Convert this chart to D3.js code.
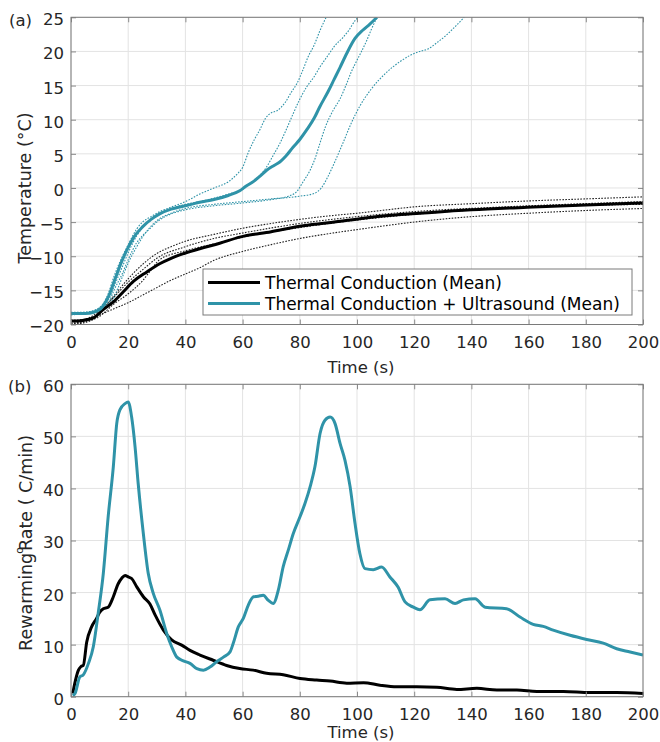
<!DOCTYPE html>
<html><head><meta charset="utf-8">
<script src="https://cdn.jsdelivr.net/npm/d3@7/dist/d3.min.js"></script>
<style>body{margin:0;background:#fff;}svg{display:block;font-family:"DejaVu Sans",sans-serif;}</style>
</head><body><svg id="c" width="660" height="742"></svg>
<script>
// ---------- DATA ----------
const tempTicks = [-20,-15,-10,-5,0,5,10,15,20,25];
const rateTicks = [0,10,20,30,40,50,60];
const timeTicks = [0,20,40,60,80,100,120,140,160,180,200];
const legendLabels = ["Thermal Conduction (Mean)", "Thermal Conduction + Ultrasound (Mean)"];

// Panel (a): temperature [time s, °C]
const condMean = [[0,-19.5],[4,-19.4],[8,-19.0],[11,-17.9],[14.8,-16.7],[18.3,-15.2],[21.8,-13.7],[26.5,-12.3],[31,-11.1],[35,-10.3],[38,-9.8],[45,-8.9],[52,-8.1],[59,-7.2],[70,-6.4],[80,-5.6],[90,-5.1],[101,-4.5],[112,-4.0],[122,-3.7],[140,-3.2],[161.6,-2.8],[180,-2.5],[200,-2.2]];
const condRun1 = [[0,-19.8],[5,-19.5],[10,-18.3],[15,-15.8],[20,-13.3],[25,-11.2],[30,-9.6],[35,-8.6],[40,-7.8],[50,-6.8],[60,-5.9],[70,-5.2],[80,-4.6],[90,-4.1],[100,-3.7],[122,-2.7],[140,-2.3],[160,-1.9],[180,-1.6],[200,-1.3]];
const condRun2 = [[0,-19.4],[5,-19.2],[10,-18.0],[15,-16.0],[20,-13.8],[25,-12.0],[30,-10.3],[40,-8.6],[50,-7.4],[60,-6.6],[80,-5.2],[100,-4.2],[122,-3.4],[150,-2.8],[200,-2.0]];
const condRun3 = [[0,-20.0],[5,-19.7],[10,-18.8],[15,-17.0],[20,-15.5],[25,-13.6],[28,-12.0],[31,-10.5],[40,-9.2],[50,-8.2],[60,-7.2],[80,-5.8],[100,-4.7],[122,-3.8],[150,-3.0],[200,-2.4]];
const condRun4 = [[0,-19.9],[5,-19.6],[10,-18.6],[15,-17.7],[20,-16.8],[25,-15.7],[30,-14.6],[35,-13.5],[40,-12.6],[45,-11.7],[50,-10.6],[60,-9.3],[70,-8.3],[80,-7.4],[90,-6.7],[100,-6.1],[122,-4.9],[140,-4.2],[160,-3.7],[180,-3.3],[200,-3.0]];

const usMean = [[0,-18.4],[5,-18.4],[8,-18.2],[11,-17.4],[13,-16.0],[15,-13.8],[18,-10.5],[20,-8.7],[22,-7.2],[25,-5.7],[28,-4.6],[31,-3.8],[35,-3.1],[38,-2.8],[42,-2.4],[45,-2.1],[50,-1.7],[55,-1.1],[59,-0.4],[61,0.2],[64,1.0],[66,1.7],[68.4,2.6],[71,3.3],[73,3.8],[75,4.6],[77.7,6.0],[80,7.1],[82.4,8.5],[85,10.2],[87,11.9],[90,14.2],[92,15.9],[94,17.6],[96.4,19.7],[99.3,21.9],[102,23.1],[104.5,24.0],[107,25.0]];
const usRun1 = [[0,-18.2],[5,-18.2],[10,-17.5],[13,-15.5],[15,-13.0],[18,-10.0],[20,-8.3],[23,-6.0],[25,-5.0],[28,-4.2],[30,-3.7],[35,-2.8],[40,-2.0],[45,-0.9],[50,0.0],[55,0.9],[58,2.0],[60,3.0],[62,5.2],[64,7.0],[66,8.5],[68,10.2],[70,11.0],[72,11.3],[75,12.6],[77,14.0],[79,15.3],[81,17.2],[83,19.3],[85,20.9],[87,23.0],[89.2,25.0]];
const usRun2 = [[0,-18.4],[10,-17.8],[13,-16.5],[15,-14.5],[18,-11.5],[20,-9.5],[23,-7.0],[25,-5.8],[28,-4.7],[30,-4.0],[35,-3.0],[40,-2.4],[45,-2.0],[50,-1.5],[55,-0.9],[60,-0.2],[63,0.8],[66,1.8],[68.4,3.1],[71,5.0],[73,6.5],[75,8.3],[77.7,10.9],[80,13.0],[82.4,14.8],[85,16.3],[87,17.7],[90,19.5],[92,20.7],[95,22.0],[97,23.0],[99.5,24.6],[100.5,25.0]];
const usRun3 = [[0,-18.5],[10,-17.8],[13,-17.0],[15,-15.0],[18,-12.5],[20,-10.5],[23,-8.0],[25,-7.0],[28,-5.8],[30,-5.0],[35,-3.8],[40,-3.2],[50,-2.6],[60,-2.2],[70,-1.7],[76,-1.2],[79,-0.5],[81,0.8],[83.6,2.6],[85.5,4.5],[87,6.5],[89,9.0],[91.7,11.4],[94,13.0],[96.4,15.3],[98,17.0],[100,18.7],[103.4,21.6],[105,23.2],[107,25.0]];
const usRun4 = [[0,-18.6],[10,-17.9],[13,-17.3],[15,-16.0],[18,-13.0],[20,-11.0],[23,-8.6],[25,-7.2],[28,-5.6],[30,-4.8],[35,-3.7],[40,-3.0],[50,-2.4],[60,-2.0],[70,-1.6],[80,-1.2],[85,-0.8],[87.5,0.0],[90,1.8],[92,3.6],[95,6.5],[98,9.5],[101,12.0],[105,14.5],[110,16.8],[115,18.5],[118.5,19.4],[122,20.0],[125,20.4],[128,21.3],[131,22.3],[134,23.5],[137.5,25.0]];

// Panel (b): rewarming rate [time s, °C/min]
const rateCond = [[0.6,0.6],[1.5,3],[2.6,5.1],[3.5,5.8],[4.3,6.0],[5.5,10.5],[7.2,13.4],[8.9,15.0],[10,16.2],[11.3,16.9],[13,17.2],[14.8,19.2],[16.5,21.7],[17.8,22.8],[18.9,23.3],[20,23.0],[21.2,22.7],[23,21.1],[25.3,19.2],[27.6,17.8],[29.4,15.7],[32.3,12.8],[35.2,10.9],[38.7,9.9],[41.6,8.9],[45.1,8.0],[49.7,7.0],[54.4,6.0],[59,5.4],[63.7,5.1],[68.4,4.5],[74.2,4.2],[80.1,3.5],[85.9,3.2],[90.6,3.0],[96.4,2.6],[102.3,2.7],[108,2.2],[113.9,1.9],[120.9,1.9],[127.9,1.8],[134.9,1.4],[141.9,1.6],[148.9,1.3],[155.9,1.3],[162.9,1.0],[172.2,1.0],[181.5,0.8],[190.8,0.8],[200,0.6]];
const rateUS = [[0.6,0.2],[1.4,0.6],[3.1,3.8],[4.3,4.2],[6.1,6.4],[7.8,9.6],[9.5,16.0],[11.3,23.7],[13,34.6],[14.8,44.2],[16,52.5],[17.1,55.1],[18.9,56.3],[20,56.6],[21.2,53.7],[22.4,48.0],[23.5,40.9],[25.3,31.3],[27,23.7],[28.8,19.8],[31.1,16.6],[33.5,12.1],[35.2,9.6],[37,7.6],[39.3,6.9],[41.6,6.4],[44,5.4],[46.3,5.1],[48.6,5.7],[50.9,6.7],[53.3,7.6],[55.6,8.6],[56.7,10.2],[58.5,13.4],[60.2,15.0],[62,17.6],[63.8,19.2],[65.5,19.3],[67.2,19.5],[69,18.5],[70.7,17.9],[72.5,20.5],[74.2,25.0],[76,28.2],[77.7,31.3],[80.1,34.6],[81.8,37.1],[83.6,40.3],[85.3,44.2],[87.1,50.6],[88.8,53.1],[90.6,53.7],[92.3,52.5],[94.1,48.6],[95.8,45.4],[97.6,40.3],[99.3,33.3],[101,27.5],[102.8,24.6],[105.7,24.4],[108.6,24.9],[111.5,23.0],[114.4,21.0],[116.8,18.2],[119.7,17.2],[122,16.7],[125.5,18.6],[130.8,18.8],[134.3,17.9],[137.2,18.6],[141.3,18.8],[144.8,17.2],[152.3,16.9],[157,15.3],[161.6,13.9],[165.1,13.5],[168.6,12.8],[174.5,11.8],[180.3,11.0],[186.1,10.3],[190.8,9.2],[195.5,8.6],[200,8.0]];

// ---------- DRAW ----------
const TEAL = "#2f93a8";
const svg = d3.select("#c");
const X0 = 71, X1 = 643;
const topP = {y0: 17.3, y1: 324.5};
const botP = {y0: 384.3, y1: 696.7};
const x = d3.scaleLinear().domain([0,200]).range([X0,X1]);
const yT = d3.scaleLinear().domain([-20,25]).range([topP.y1, topP.y0]);
const yB = d3.scaleLinear().domain([0,60]).range([botP.y1, botP.y0]);

function panel(y, yTicks, clipId) {
  const g = svg.append("g");
  const [r0, r1] = y.range();
  g.append("g").selectAll("line").data(timeTicks).join("line")
    .attr("x1", d=>x(d)).attr("x2", d=>x(d)).attr("y1", r1).attr("y2", r0)
    .attr("stroke","#e3e3e3").attr("stroke-width",1);
  g.append("g").selectAll("line").data(yTicks).join("line")
    .attr("x1", X0).attr("x2", X1).attr("y1", d=>y(d)).attr("y2", d=>y(d))
    .attr("stroke","#e3e3e3").attr("stroke-width",1);
  svg.append("defs").append("clipPath").attr("id",clipId).append("rect")
    .attr("x",X0).attr("y",r1).attr("width",X1-X0).attr("height",r0-r1);
  return g;
}
function frame(y, yTicks) {
  const [r0, r1] = y.range();
  const g = svg.append("g");
  const gx = g.append("g").attr("transform",`translate(0,${r0})`)
    .call(d3.axisBottom(x).tickValues(timeTicks).tickSize(-5).tickPadding(8));
  const gy = g.append("g").attr("transform",`translate(${X0},0)`)
    .call(d3.axisLeft(y).tickValues(yTicks).tickSize(-5).tickPadding(7));
  g.append("g").attr("transform",`translate(0,${r1})`).call(d3.axisTop(x).tickValues(timeTicks).tickSize(-5).tickFormat(""));
  g.append("g").attr("transform",`translate(${X1},0)`).call(d3.axisRight(y).tickValues(yTicks).tickSize(-5).tickFormat(""));
  g.selectAll(".domain").remove();
  g.selectAll(".tick line").attr("stroke","#8a8a8a");
  g.selectAll("text").attr("font-family","DejaVu Sans").attr("font-size",16.5).attr("fill","#262626");
  gx.selectAll("text").attr("dy","0.95em");
  gy.selectAll("text").attr("dy","0.45em");
  g.append("rect").attr("x",X0).attr("y",r1).attr("width",X1-X0).attr("height",r0-r1)
    .attr("fill","none").attr("stroke","#7a7a7a").attr("stroke-width",1);
}
const lineT = d3.line().x(d=>x(d[0])).y(d=>yT(d[1])).curve(d3.curveMonotoneX);
const lineB = d3.line().x(d=>x(d[0])).y(d=>yB(d[1])).curve(d3.curveMonotoneX);

// Panel (a)
const ga = panel(yT, tempTicks, "clipA");
const la = ga.append("g").attr("clip-path","url(#clipA)");
[condRun1,condRun2,condRun3,condRun4].forEach(r=>{
  la.append("path").attr("d",lineT(r)).attr("fill","none").attr("stroke","#222")
    .attr("stroke-width",1.1).attr("stroke-dasharray","1.6,1.4");
});
[usRun1,usRun2,usRun3,usRun4].forEach(r=>{
  la.append("path").attr("d",lineT(r)).attr("fill","none").attr("stroke",TEAL)
    .attr("stroke-width",1.1).attr("stroke-dasharray","1.6,1.4");
});
la.append("path").attr("d",lineT(condMean)).attr("fill","none").attr("stroke","#000").attr("stroke-width",3);
la.append("path").attr("d",lineT(usMean)).attr("fill","none").attr("stroke",TEAL).attr("stroke-width",3);
frame(yT, tempTicks);

// legend
const lg = svg.append("g");
lg.append("rect").attr("x",203).attr("y",269).attr("width",429).attr("height",46)
  .attr("fill","#fff").attr("stroke","#7a7a7a").attr("stroke-width",1);
[["#000",282.5],[TEAL,303.5]].forEach((c,i)=>{
  lg.append("line").attr("x1",208).attr("x2",260).attr("y1",c[1]).attr("y2",c[1])
    .attr("stroke",c[0]).attr("stroke-width",3);
  lg.append("text").attr("x",265).attr("y",c[1]).attr("dy","0.36em")
    .attr("font-size",17).attr("fill","#000").text(legendLabels[i]);
});

// Panel (b)
const gb = panel(yB, rateTicks, "clipB");
const lb = gb.append("g").attr("clip-path","url(#clipB)");
lb.append("path").attr("d",lineB(rateCond)).attr("fill","none").attr("stroke","#000").attr("stroke-width",3);
lb.append("path").attr("d",lineB(rateUS)).attr("fill","none").attr("stroke",TEAL).attr("stroke-width",3);
frame(yB, rateTicks);

// labels
const txt = (xx,yy,s,size,anchor)=>svg.append("text").attr("x",xx).attr("y",yy)
  .attr("font-size",size).attr("fill","#262626").attr("text-anchor",anchor||"middle").text(s);
txt(9,26,"(a)",16.5,"start");
txt(8,392,"(b)",16.5,"start");
txt(361,373,"Time (s)",16.5);
txt(361,738,"Time (s)",16.5);
svg.append("text").attr("transform","translate(31,188) rotate(-90)")
  .attr("text-anchor","middle").attr("font-size",17.5).attr("fill","#262626").text("Temperature (°C)");
const yl = svg.append("text").attr("transform","translate(32,543) rotate(-90)")
  .attr("text-anchor","middle").attr("font-size",17.5).attr("fill","#262626");
yl.append("tspan").text("Rewarming");
yl.append("tspan").attr("font-size",11).attr("dy",-9).attr("dx",-1).text("o");
yl.append("tspan").attr("dy",9).attr("dx",-4).text("Rate  ( C/min)");
</script></body></html>
